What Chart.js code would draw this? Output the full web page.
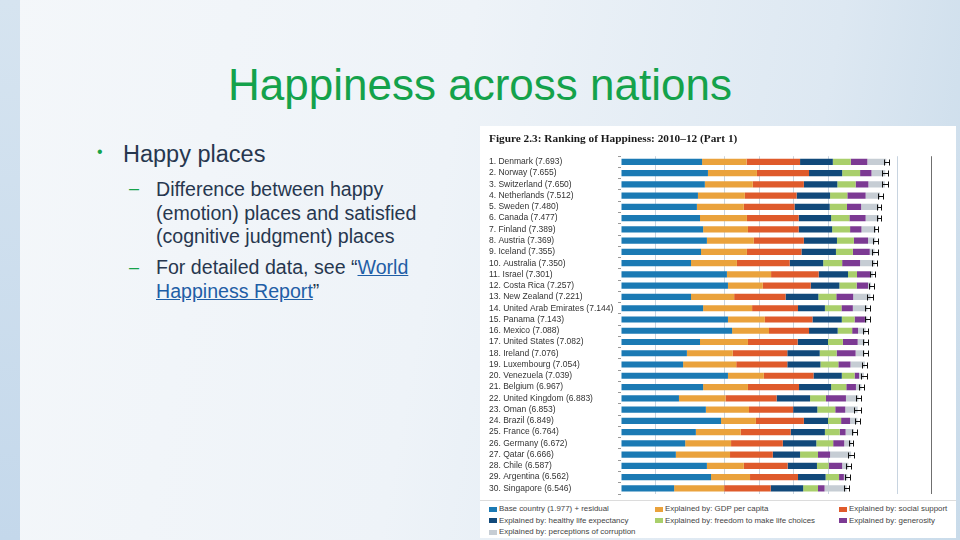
<!DOCTYPE html>
<html>
<head>
<meta charset="utf-8">
<script src="https://cdn.jsdelivr.net/npm/chart.js@4"></script>
<style>
  html, body { margin: 0; padding: 0; }
  body {
    width: 960px; height: 540px; overflow: hidden; position: relative;
    font-family: "Liberation Sans", Arial, sans-serif;
    background: linear-gradient(100deg, #f4f7fa 0%, #eef3f8 45%, #dde8f2 80%, #c9dbea 100%);
  }
  #strip { position: absolute; left: 0; top: 0; width: 20px; height: 540px;
    background: linear-gradient(180deg, #d6e4f0 0%, #c4d8eb 100%); }
  #title { position: absolute; left: 0; width: 960px; top: 58px; text-align: center;
    font-size: 44px; color: #14a24b; line-height: 54px; }
  .txt { position: absolute; color: #27374f; white-space: nowrap; }
  .l1 { font-size: 23.5px; line-height: 28px; }
  .l2 { font-size: 19.6px; line-height: 23.5px; }
  .bul { position: absolute; color: #16a34a; }
  a { color: #1f5ea6; text-decoration: underline; }
  #panel { position: absolute; left: 480px; top: 126px; width: 476px; height: 412px; background: #ffffff; }
  #sep { position: absolute; left: 480px; top: 500px; width: 476px; height: 1px; background: #dcdcdc; }
  #chartwrap { position: absolute; left: 480px; top: 126px; width: 476px; height: 374px; }
  .leg { position: absolute; font-size: 7.9px; color: #444; white-space: nowrap; line-height: 10px; }
  .leg i { position: absolute; left: -10px; top: 2.5px; width: 8px; height: 5px; }
</style>
</head>
<body>
<div id="strip"></div>
<div id="title">Happiness across nations</div>

<div class="bul" style="left:97px; top:143px; font-size:16px;">•</div>
<div class="txt l1" style="left:123px; top:140px;">Happy places</div>

<div class="bul" style="left:129px; top:178px; font-size:18px;">–</div>
<div class="txt l2" style="left:156px; top:178px;">Difference between happy<br>(emotion) places and satisfied<br>(cognitive judgment) places</div>

<div class="bul" style="left:129px; top:257px; font-size:18px;">–</div>
<div class="txt l2" style="left:156px; top:256px;">For detailed data, see “<a>World</a><br><a>Happiness Report</a>”</div>

<div id="panel"></div>
<div id="sep"></div>
<div id="chartwrap"><canvas id="c" width="476" height="374"></canvas></div>
<div id="legend"></div>

<script>
// ---- Data ----
const countries = ["Denmark","Norway","Switzerland","Netherlands","Sweden","Canada","Finland","Austria","Iceland","Australia",
  "Israel","Costa Rica","New Zealand","United Arab Emirates","Panama","Mexico","United States","Ireland","Luxembourg","Venezuela",
  "Belgium","United Kingdom","Oman","Brazil","France","Germany","Qatar","Chile","Argentina","Singapore"];
const scores = [7.693,7.655,7.650,7.512,7.480,7.477,7.389,7.369,7.355,7.350,
  7.301,7.257,7.221,7.144,7.143,7.088,7.082,7.076,7.054,7.039,
  6.967,6.883,6.853,6.849,6.764,6.672,6.666,6.587,6.562,6.546];
const baseResidual = [2.35,2.52,2.43,2.23,2.20,2.29,2.38,2.49,2.32,2.03,
  3.07,3.10,2.03,2.38,3.10,3.22,2.29,1.91,1.80,3.10,
  2.38,1.68,2.46,2.90,2.17,1.86,1.59,2.49,2.61,1.54];
const gdpPerCapita = [1.29,1.42,1.39,1.36,1.36,1.36,1.30,1.36,1.33,1.33,
  1.28,1.01,1.25,1.42,1.07,1.07,1.39,1.33,1.54,1.04,
  1.30,1.35,1.25,1.01,1.30,1.33,1.57,1.07,1.13,1.45];
const socialSupport = [1.55,1.51,1.48,1.50,1.47,1.50,1.47,1.45,1.58,1.53,
  1.38,1.39,1.49,1.33,1.38,1.16,1.44,1.58,1.48,1.44,
  1.48,1.48,1.28,1.39,1.45,1.50,1.24,1.27,1.39,1.35];
const healthyLife = [0.95,0.96,0.97,0.97,1.02,0.94,0.97,0.96,1.00,0.97,
  0.85,0.83,0.95,0.78,0.85,0.83,0.88,0.94,0.96,0.82,
  0.93,0.97,0.70,0.70,0.99,0.97,0.79,0.85,0.80,0.94];
const freedom = [0.52,0.52,0.53,0.50,0.50,0.53,0.52,0.49,0.49,0.55,
  0.26,0.50,0.52,0.48,0.37,0.42,0.43,0.49,0.52,0.37,
  0.44,0.46,0.52,0.38,0.43,0.49,0.52,0.34,0.39,0.43];
const generosity = [0.48,0.33,0.37,0.53,0.41,0.47,0.33,0.41,0.49,0.52,
  0.38,0.33,0.49,0.33,0.30,0.17,0.43,0.55,0.35,0.13,
  0.28,0.58,0.29,0.26,0.17,0.32,0.35,0.39,0.14,0.19];
const corruption = [0.55,0.40,0.48,0.42,0.51,0.39,0.42,0.21,0.14,0.42,
  0.08,0.09,0.50,0.42,0.07,0.22,0.21,0.26,0.42,0.14,
  0.16,0.36,0.36,0.21,0.24,0.21,0.61,0.18,0.10,0.64];
// 95% confidence half-widths of the score (whiskers)
const ciHalf = [0.08,0.08,0.08,0.07,0.07,0.07,0.07,0.07,0.08,0.07,
  0.07,0.07,0.08,0.07,0.07,0.07,0.07,0.07,0.07,0.09,
  0.07,0.06,0.10,0.08,0.07,0.06,0.09,0.07,0.07,0.07];
const seriesNames = ["Base country (1.977) + residual","Explained by: GDP per capita","Explained by: social support",
  "Explained by: healthy life expectancy","Explained by: freedom to make life choices","Explained by: generosity",
  "Explained by: perceptions of corruption"];
const seriesColors = ["#1b7ab4","#eaa23c","#df5a2b","#11497a","#a9cf6b","#7c3a93","#c6cdd4"];
const seriesData = [baseResidual,gdpPerCapita,socialSupport,healthyLife,freedom,generosity,corruption];
const xTicks = [0,1,2,3,4,5,6,7,8,9];
const hiddenGrid = [0,2,7];

const labels = countries.map((c,i)=> (i+1) + ". " + c + " (" + scores[i].toFixed(3) + ")");

const errorBars = {
  id: 'errorBars',
  afterDatasetsDraw(chart) {
    const {ctx, scales:{x, y}} = chart;
    ctx.save();
    ctx.strokeStyle = '#111';
    ctx.lineWidth = 1;
    scores.forEach((s,i)=>{
      const yc = Math.round(y.getPixelForValue(i)) + 0.5;
      const x1 = Math.round(x.getPixelForValue(s - ciHalf[i])) + 0.5;
      const x2 = Math.round(x.getPixelForValue(s + ciHalf[i])) + 0.5;
      ctx.beginPath();
      ctx.moveTo(x1, yc); ctx.lineTo(x2, yc);
      ctx.moveTo(x1, yc-3); ctx.lineTo(x1, yc+3);
      ctx.moveTo(x2, yc-3); ctx.lineTo(x2, yc+3);
      ctx.stroke();
    });
    ctx.restore();
  }
};

new Chart(document.getElementById('c'), {
  type: 'bar',
  data: {
    labels: labels,
    datasets: seriesData.map((d,k)=>({
      label: seriesNames[k], data: d, backgroundColor: seriesColors[k],
      borderWidth: 0, barPercentage: 0.55, categoryPercentage: 1.0
    }))
  },
  plugins: [errorBars],
  options: {
    indexAxis: 'y',
    responsive: false,
    animation: false,
    devicePixelRatio: 1,
    layout: { padding: { left: 9, top: 4, right: 24.5, bottom: 0 } },
    plugins: {
      legend: { display: false },
      tooltip: { enabled: false },
      title: {
        display: true, align: 'start', color: '#1a1a1a',
        text: 'Figure 2.3: Ranking of Happiness: 2010–12 (Part 1)',
        font: { family: '"Liberation Serif", serif', size: 11.3, weight: 'bold', lineHeight: 1.17 },
        padding: { top: 2, bottom: 11 }
      }
    },
    scales: {
      x: {
        stacked: true, min: 0, max: 9,
        afterBuildTicks: (s)=>{ s.ticks = xTicks.map(v=>({value:v})); },
        afterFit: (s)=>{ s.height = 6; },
        ticks: { display: false },
        border: { display: false },
        grid: {
          drawTicks: false,
          color: (c)=> hiddenGrid.includes(c.tick.value) ? 'rgba(0,0,0,0)' : (c.tick.value === 9 ? '#6f6f6f' : '#c8d4e0'),
          lineWidth: 1
        }
      },
      y: {
        stacked: true,
        afterFit: (s)=>{ s.width = 132; },
        border: { display: false },
        grid: { offset: true, drawOnChartArea: false, tickLength: 3, color: '#9a9a9a' },
        ticks: {
          autoSkip: false, crossAlign: 'far', padding: 0, color: '#333',
          font: { family: '"Liberation Sans", Arial, sans-serif', size: 8.5 }
        }
      }
    }
  }
});

// HTML legend built from the series
const legPos = [[499,504],[665,504],[849,504],[499,515.5],[665,515.5],[849,515.5],[499,527]];
const legEl = document.getElementById('legend');
seriesNames.forEach((n,k)=>{
  const d = document.createElement('div');
  d.className = 'leg';
  d.style.left = legPos[k][0] + 'px';
  d.style.top = legPos[k][1] + 'px';
  d.innerHTML = '<i style="background:' + seriesColors[k] + '"></i>' + n;
  legEl.appendChild(d);
});
</script>
</body>
</html>
